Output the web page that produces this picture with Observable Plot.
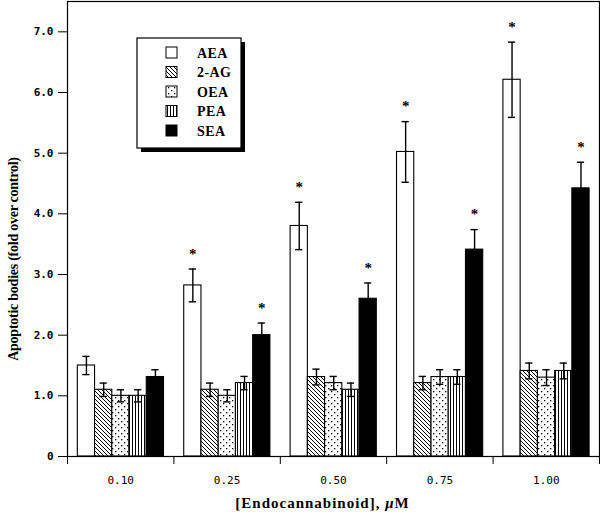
<!DOCTYPE html>
<html><head><meta charset="utf-8">
<script src="https://cdn.jsdelivr.net/npm/d3@7"></script>
<script src="https://cdn.jsdelivr.net/npm/@observablehq/plot@0.6"></script>
<style>body{margin:0;background:#fff}#chart{position:relative;width:600px;height:512px}</style>
</head><body><div id="chart"></div>
<script>
const concentrations = ["0.10", "0.25", "0.50", "0.75", "1.00"];
const series = ["AEA", "2-AG", "OEA", "PEA", "SEA"];
const aea = [1.50, 2.82, 3.80, 5.02, 6.21];
const aeaErr = [0.15, 0.27, 0.39, 0.50, 0.62];
const ag2 = [1.10, 1.10, 1.31, 1.21, 1.41];
const ag2Err = [0.11, 0.11, 0.13, 0.11, 0.13];
const oea = [1.00, 1.00, 1.21, 1.31, 1.30];
const oeaErr = [0.10, 0.10, 0.11, 0.12, 0.13];
const pea = [1.00, 1.21, 1.10, 1.31, 1.41];
const peaErr = [0.10, 0.11, 0.11, 0.12, 0.13];
const sea = [1.31, 2.00, 2.60, 3.41, 4.42];
const seaErr = [0.12, 0.20, 0.26, 0.33, 0.43];
const aeaSignificant = [false, true, true, true, true];
const seaSignificant = [false, true, true, true, true];
const yTicks = [0, 1, 2, 3, 4, 5, 6, 7];
const yLabel = "Apoptotic bodies (fold over control)";
const xLabel = "[Endocannabinoid], μM";

const valuesBySeries = {"AEA": aea, "2-AG": ag2, "OEA": oea, "PEA": pea, "SEA": sea};
const errorsBySeries = {"AEA": aeaErr, "2-AG": ag2Err, "OEA": oeaErr, "PEA": peaErr, "SEA": seaErr};
const sigBySeries = {"AEA": aeaSignificant, "SEA": seaSignificant};
const fills = {"AEA": "white", "2-AG": "url(#pat-hatch)", "OEA": "url(#pat-dots)", "PEA": "url(#pat-vlines)", "SEA": "black"};

// group layout in band units (each concentration occupies one unit)
const groupPad = 0.097, barW = 0.162, capHalf = 0.034;
const rows = [];
concentrations.forEach((c, i) => series.forEach((s, j) => {
  const x1 = i + groupPad + j * barW;
  rows.push({c, s, i, j, x1, x2: x1 + barW, xc: x1 + barW / 2,
    v: valuesBySeries[s][i], e: errorsBySeries[s][i],
    sig: sigBySeries[s] ? sigBySeries[s][i] : false});
}));

const serif = "Liberation Serif, Times New Roman, serif";
const mono = "DejaVu Sans Mono, monospace";

const plot = Plot.plot({
  width: 600, height: 512,
  marginLeft: 67, marginRight: 1, marginTop: 1, marginBottom: 56,
  x: {domain: [0, concentrations.length], axis: null},
  y: {domain: [0, 7.5], axis: null},
  marks: [
    ...series.map(s => Plot.rectY(rows.filter(r => r.s === s), {
      x1: "x1", x2: "x2", y1: 0, y2: "v", fill: fills[s], stroke: "black", strokeWidth: 1.1
    })),
    Plot.ruleX(rows, {x: "xc", y1: d => d.v - d.e, y2: d => d.v + d.e, stroke: "black", strokeWidth: 1.4}),
    Plot.ruleY(rows, {y: d => d.v + d.e, x1: d => d.xc - capHalf, x2: d => d.xc + capHalf, stroke: "black", strokeWidth: 1.4}),
    Plot.ruleY(rows, {y: d => d.v - d.e, x1: d => d.xc - capHalf, x2: d => d.xc + capHalf, stroke: "black", strokeWidth: 1.4}),
    Plot.text(rows.filter(r => r.sig), {x: "xc", y: d => d.v + d.e, text: () => "*", dy: -15,
      fontSize: 15, fontWeight: "bold", fontFamily: serif, fill: "black"}),
    Plot.frame({stroke: "black", strokeWidth: 1.2}),
    Plot.axisY({ticks: yTicks, tickSize: 9, tickPadding: 5, label: null,
      tickFormat: d => d === 0 ? "0" : d.toFixed(1),
      fontSize: 11, fontWeight: "bold", fontFamily: mono, stroke: "black"}),
    Plot.axisX({ticks: d3.range(0, concentrations.length + 1), tickSize: 8, tickFormat: () => "", label: null, stroke: "black"}),
    Plot.axisX({ticks: concentrations.map((c, i) => i + 0.5), tickSize: 0, tickPadding: 20, label: null,
      tickFormat: d => concentrations[Math.floor(d)], fontSize: 11, fontFamily: mono}),
    Plot.text([yLabel], {frameAnchor: "left", rotate: -90, dx: -54, dy: 30, text: d => d,
      textAnchor: "middle", lineAnchor: "middle",
      fontSize: 14, fontWeight: "bold", fontFamily: serif, fill: "black", className: "ylabel"}),
    Plot.text([xLabel], {frameAnchor: "bottom", dx: -11, dy: 47, text: d => d,
      textAnchor: "middle", lineAnchor: "middle",
      fontSize: 15, fontWeight: "bold", fontFamily: serif, fill: "black", className: "xlabel"})
  ]
});

const svg = d3.select(plot);
// patterns
const defs = svg.insert("defs", ":first-child");
const hatch = defs.append("pattern").attr("id", "pat-hatch").attr("patternUnits", "userSpaceOnUse")
  .attr("width", 4).attr("height", 4);
hatch.append("rect").attr("width", 4).attr("height", 4).attr("fill", "white");
hatch.append("path").attr("d", "M0,0L4,4M-1,3L1,5M3,-1L5,1").attr("stroke", "black").attr("stroke-width", 1);
const dots = defs.append("pattern").attr("id", "pat-dots").attr("patternUnits", "userSpaceOnUse")
  .attr("width", 6).attr("height", 6);
dots.append("rect").attr("width", 6).attr("height", 6).attr("fill", "white");
dots.append("rect").attr("x", 1).attr("y", 1).attr("width", 1.3).attr("height", 1.3).attr("fill", "black");
dots.append("rect").attr("x", 4).attr("y", 4).attr("width", 1.3).attr("height", 1.3).attr("fill", "black");
const vl = defs.append("pattern").attr("id", "pat-vlines").attr("patternUnits", "userSpaceOnUse")
  .attr("width", 3).attr("height", 3);
vl.append("rect").attr("width", 3).attr("height", 3).attr("fill", "white");
vl.append("rect").attr("x", 0).attr("width", 1).attr("height", 3).attr("fill", "black");

svg.selectAll(".ylabel text").attr("letter-spacing", -0.25);
// italic mu in x label, slightly spaced like the reference
svg.selectAll(".xlabel text").each(function() {
  const t = d3.select(this).attr("letter-spacing", 1);
  t.text(null);
  t.append("tspan").text("[Endocannabinoid], ");
  t.append("tspan").attr("font-style", "italic").text("μ");
  t.append("tspan").text("M");
});

// legend (inside plot area)
const lg = svg.append("g").attr("transform", "translate(137,38)").attr("text-anchor", "start");
lg.append("rect").attr("x", 4).attr("y", 4).attr("width", 104).attr("height", 110).attr("fill", "black");
lg.append("rect").attr("x", 0).attr("y", 0).attr("width", 104).attr("height", 110).attr("fill", "white").attr("stroke", "black").attr("stroke-width", 1.2);
series.forEach((s, k) => {
  const cy = 15 + k * 19.5;
  lg.append("rect").attr("x", 29).attr("y", cy - 6).attr("width", 11).attr("height", 11)
    .attr("fill", fills[s]).attr("stroke", "black").attr("stroke-width", 1);
  lg.append("text").attr("x", 60).attr("y", cy).attr("dy", "0.35em").text(s)
    .attr("text-anchor", "start")
    .attr("font-family", serif).attr("font-weight", "bold").attr("font-size", 14)
    .attr("letter-spacing", 0.4).attr("fill", "black");
});

document.getElementById("chart").appendChild(plot);
</script></body></html>
